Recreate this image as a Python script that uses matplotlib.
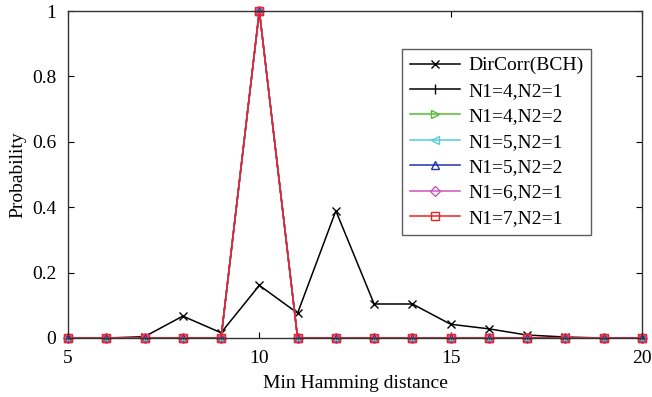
import matplotlib
matplotlib.use("Agg")
import matplotlib.pyplot as plt

plt.rcParams['font.family'] = ['Liberation Serif', 'DejaVu Serif']

x = list(range(5, 21))
dircorr = [0, 0, 0.004, 0.067, 0.016, 0.161, 0.076, 0.389, 0.104, 0.104, 0.042, 0.028, 0.009, 0.003, 0, 0]
n41 = [0, 0, 0, 0, 0, 1, 0, 0, 0, 0, 0, 0, 0, 0, 0, 0]
n42 = [0, 0, 0, 0, 0, 1, 0, 0, 0, 0, 0, 0, 0, 0, 0, 0]
n51 = [0, 0, 0, 0, 0, 1, 0, 0, 0, 0, 0, 0, 0, 0, 0, 0]
n52 = [0, 0, 0, 0, 0, 1, 0, 0, 0, 0, 0, 0, 0, 0, 0, 0]
n61 = [0, 0, 0, 0, 0, 1, 0, 0, 0, 0, 0, 0, 0, 0, 0, 0]
n71 = [0, 0, 0, 0, 0, 1, 0, 0, 0, 0, 0, 0, 0, 0, 0, 0]

labels = ['DirCorr(BCH)', 'N1=4,N2=1', 'N1=4,N2=2', 'N1=5,N2=1',
          'N1=5,N2=2', 'N1=6,N2=1', 'N1=7,N2=1']
series = [dircorr, n41, n42, n51, n52, n61, n71]
colors = ['black', 'black', '#55bb33', '#55ccdd', '#2233aa', '#cc55bb', '#ee2222']
markers = ['x', '|', '>', '<', '^', 'D', 's']
msizes = [6, 7, 6, 6, 6, 5, 5.5]

fig = plt.figure(figsize=(6.52, 3.97), dpi=100)
ax = fig.add_axes([68/652, 1 - 338/397, (642-68)/652, (338-11)/397])

for y, lab, c, m, ms in zip(series, labels, colors, markers, msizes):
    ax.plot(x, y, color=c, marker=m, markersize=ms, markerfacecolor='none',
            markeredgecolor=c, linewidth=1.1, markeredgewidth=1.0, label=lab, clip_on=False)

ax.set_xlim(5, 20)
ax.set_ylim(0, 1)
ax.set_xticks([5, 10, 15, 20])
ax.set_yticks([0, 0.2, 0.4, 0.6, 0.8, 1])
ax.set_yticklabels(['0', '0.2', '0.4', '0.6', '0.8', '1'])
ax.tick_params(direction='in', labelsize=14, length=4, top=True, right=True)
ax.tick_params(axis='x', pad=8.5)
ax.tick_params(axis='y', pad=8.5)
ax.set_xlabel('Min Hamming distance', fontsize=14, labelpad=6)
ax.set_ylabel('Probability', fontsize=14, labelpad=4)
for s in ax.spines.values():
    s.set_color('#333333')
    s.set_linewidth(1.0)

leg = ax.legend(loc='upper left', bbox_to_anchor=((402-68)/574, 1 - (49-11)/327),
                fontsize=14, frameon=True, fancybox=False, edgecolor='#333333',
                handlelength=2.6, borderpad=0.4, labelspacing=0.4, handletextpad=0.4,
                borderaxespad=0)
leg.get_frame().set_linewidth(1.0)

fig.savefig('out.png', dpi=100)
